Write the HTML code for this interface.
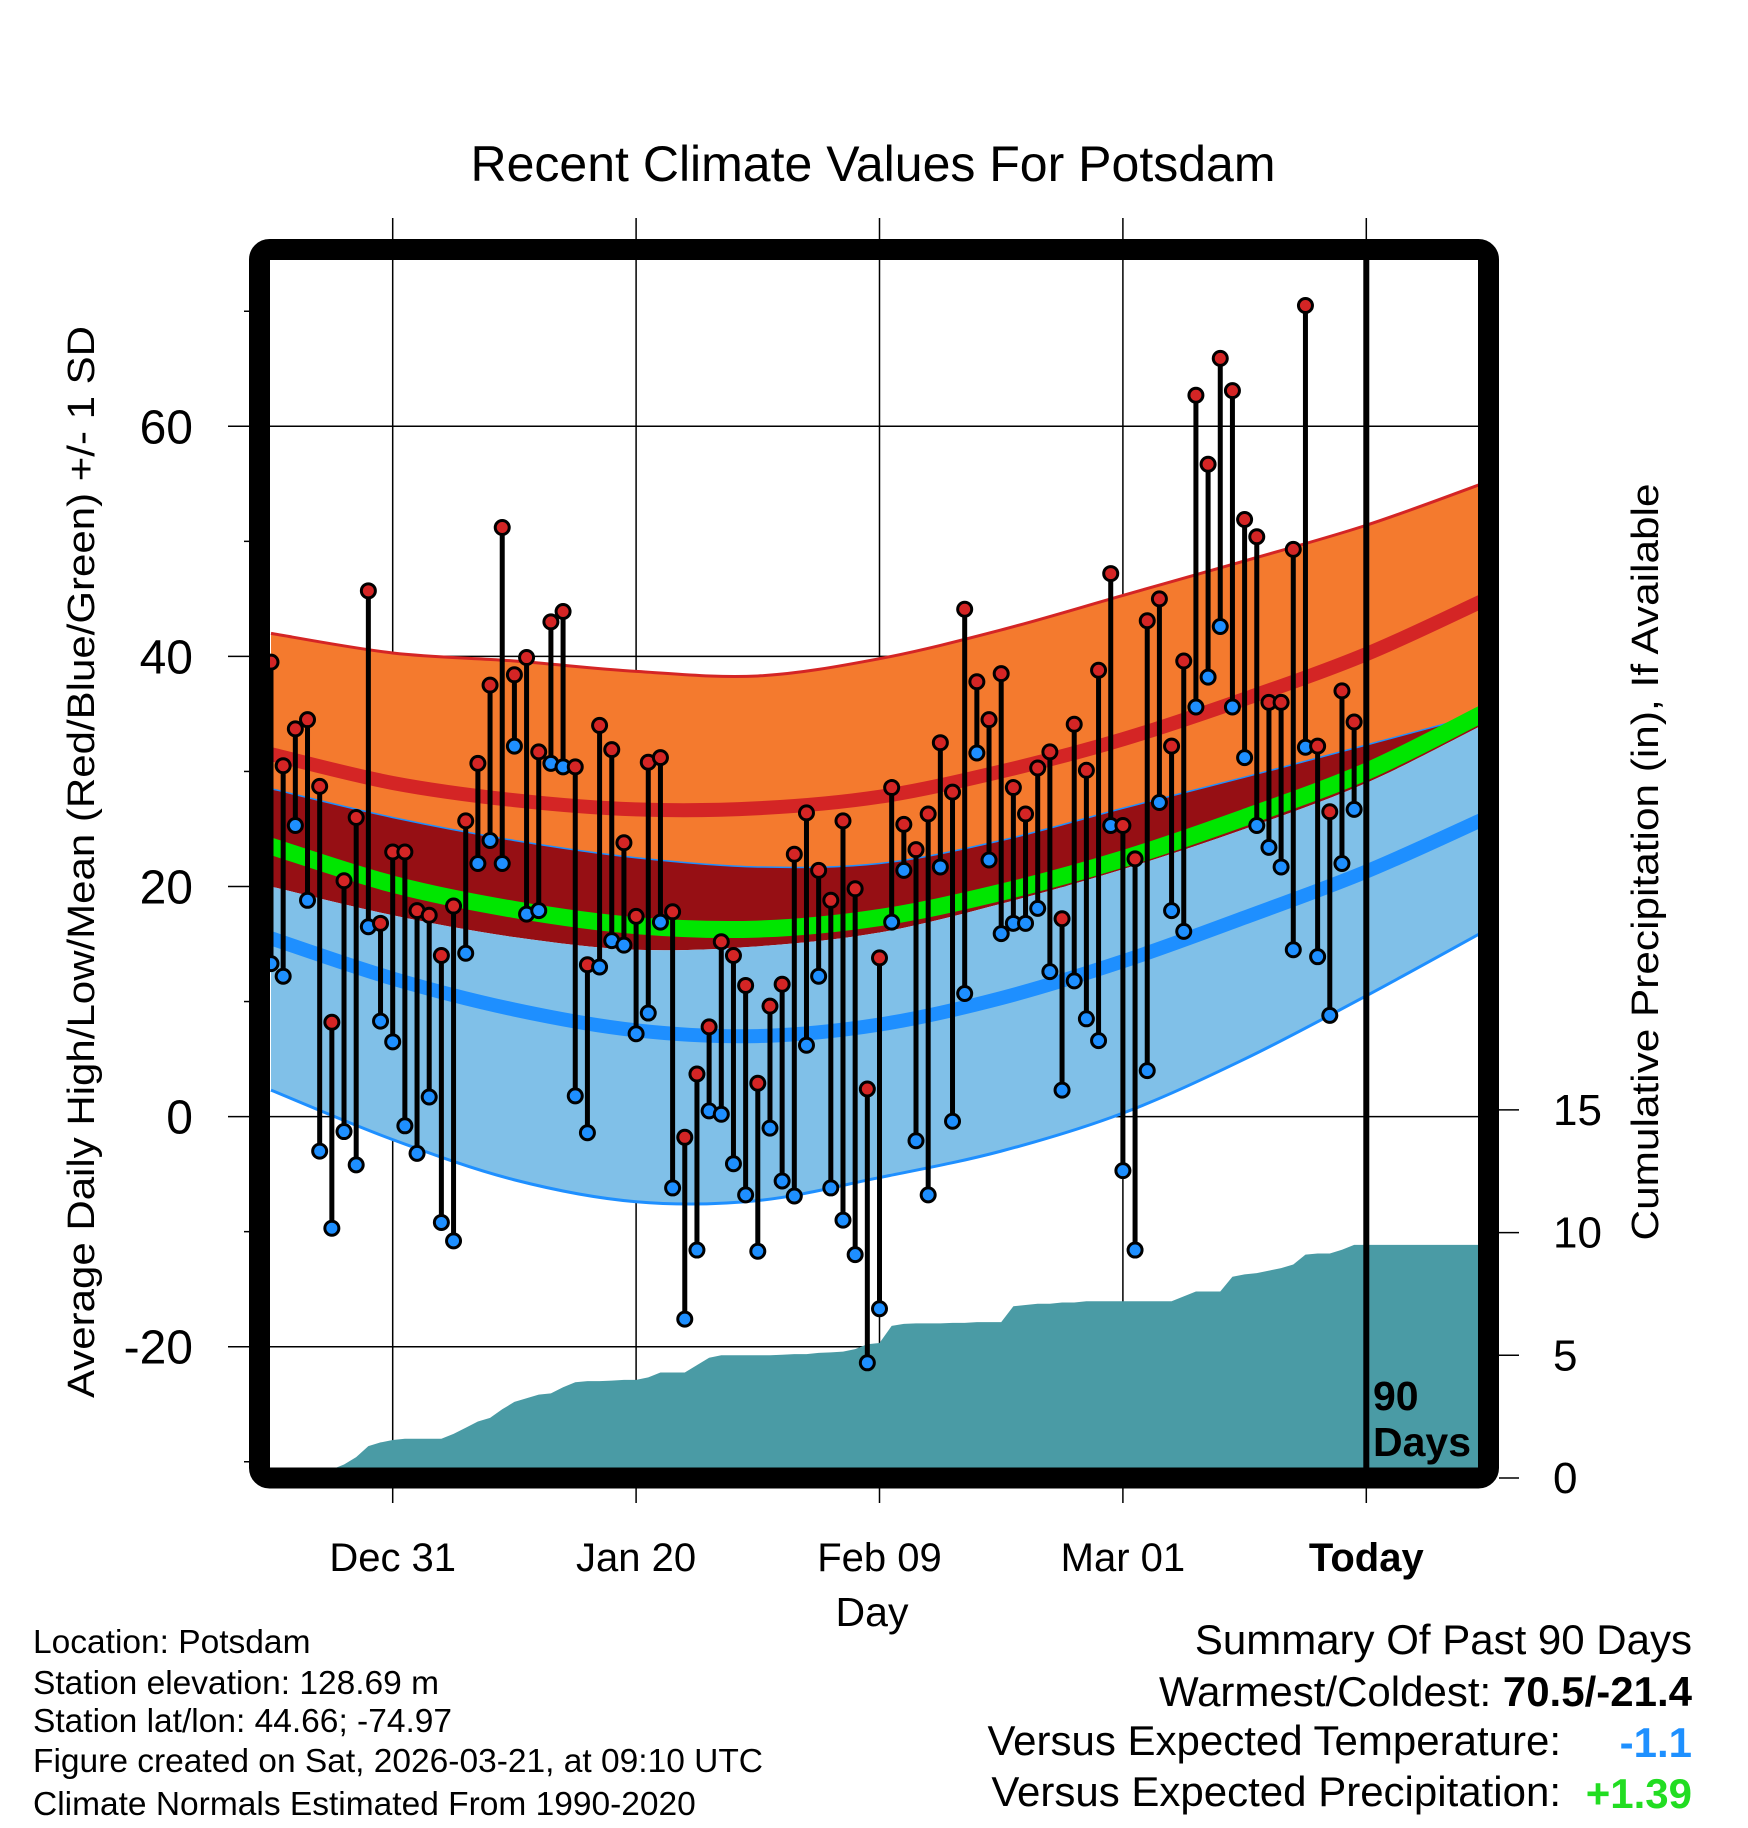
<!DOCTYPE html>
<html><head><meta charset="utf-8"><style>
body{margin:0;background:#fff;}
svg{display:block;font-family:"Liberation Sans",sans-serif;}
</style></head><body>
<svg id="chart" width="1748" height="1828" viewBox="0 0 1748 1828" xmlns="http://www.w3.org/2000/svg">
<defs><clipPath id="plotclip"><rect x="270" y="260" width="1208" height="1208"/></clipPath></defs>
<text x="873" y="181" font-size="50" text-anchor="middle">Recent Climate Values For Potsdam</text>
<g id="grid"></g>
<g id="bands" clip-path="url(#plotclip)"></g>
<g id="precip" clip-path="url(#plotclip)"></g>
<g id="marks"></g>
<g id="axes"></g>
<rect x="259.5" y="249.5" width="1229" height="1228.5" rx="10" fill="none" stroke="#000" stroke-width="21"/>
<text x="1373" y="1410" font-size="41" font-weight="bold">90</text>
<text x="1373" y="1456" font-size="41" font-weight="bold">Days</text>
<text x="872" y="1626" font-size="41" text-anchor="middle">Day</text>
<text transform="translate(94,862) rotate(-90)" font-size="38" text-anchor="middle" textLength="1072" lengthAdjust="spacingAndGlyphs">Average Daily High/Low/Mean (Red/Blue/Green) +/- 1 SD</text>
<text transform="translate(1658,862) rotate(-90)" font-size="38" text-anchor="middle" textLength="757" lengthAdjust="spacingAndGlyphs">Cumulative Precipitation (in), If Available</text>
<g font-size="33.5">
<text x="33" y="1653">Location: Potsdam</text>
<text x="33" y="1694">Station elevation: 128.69 m</text>
<text x="33" y="1732">Station lat/lon: 44.66; -74.97</text>
<text x="33" y="1772">Figure created on Sat, 2026-03-21, at 09:10 UTC</text>
<text x="33" y="1815">Climate Normals Estimated From 1990-2020</text>
</g>
<g font-size="42" text-anchor="end">
<text x="1692" y="1654">Summary Of Past 90 Days</text>
<text x="1692" y="1706">Warmest/Coldest: <tspan font-weight="bold">70.5/-21.4</tspan></text>
<text x="1561" y="1755">Versus Expected Temperature:</text>
<text x="1692" y="1757" font-weight="bold" fill="#1e90ff">-1.1</text>
<text x="1561" y="1806">Versus Expected Precipitation:</text>
<text x="1692" y="1808" font-weight="bold" fill="#22dd22">+1.39</text>
</g>
</svg>
<script>
const highs=[39.5,30.5,33.7,34.5,28.7,8.2,20.5,26.0,45.7,16.8,23.0,23.0,17.9,17.5,14.0,18.3,25.7,30.7,37.5,51.2,38.4,39.9,31.7,43.0,43.9,30.4,13.2,34.0,31.9,23.8,17.4,30.8,31.2,17.8,-1.8,3.7,7.8,15.2,14.0,11.4,2.9,9.6,11.5,22.8,26.4,21.4,18.8,25.7,19.8,2.4,13.8,28.6,25.4,23.2,26.3,32.5,28.2,44.1,37.8,34.5,38.5,28.6,26.3,30.3,31.7,17.2,34.1,30.1,38.8,47.2,25.3,22.4,43.1,45.0,32.2,39.6,62.7,56.7,65.9,63.1,51.9,50.4,36.0,36.0,49.3,70.5,32.2,26.5,37.0,34.3];
const lows=[13.3,12.2,25.3,18.8,-3.0,-9.7,-1.3,-4.2,16.5,8.3,6.5,-0.8,-3.2,1.7,-9.2,-10.8,14.2,22.0,24.0,22.0,32.2,17.6,17.9,30.7,30.4,1.8,-1.4,13.0,15.3,14.9,7.2,9.0,16.9,-6.2,-17.6,-11.6,0.5,0.2,-4.1,-6.8,-11.7,-1.0,-5.6,-6.9,6.2,12.2,-6.2,-9.0,-12.0,-21.4,-16.7,16.9,21.4,-2.1,-6.8,21.7,-0.4,10.7,31.6,22.3,15.9,16.8,16.8,18.1,12.6,2.3,11.8,8.5,6.6,25.3,-4.7,-11.6,4.0,27.3,17.9,16.1,35.6,38.2,42.6,35.6,31.2,25.3,23.4,21.7,14.5,32.1,13.9,8.8,22.0,26.7];
const precip=[0,0,0.02,0.08,0.2,0.35,0.55,0.85,1.3,1.45,1.55,1.6,1.6,1.6,1.6,1.8,2.05,2.3,2.45,2.8,3.1,3.25,3.4,3.45,3.7,3.9,3.95,3.95,3.97,4.0,4.0,4.1,4.3,4.3,4.3,4.6,4.9,5.0,5.0,5.0,5.0,5.0,5.02,5.05,5.05,5.1,5.12,5.15,5.25,5.45,5.5,6.2,6.28,6.3,6.3,6.3,6.32,6.32,6.35,6.35,6.35,7.0,7.05,7.1,7.1,7.15,7.15,7.2,7.2,7.2,7.2,7.2,7.2,7.2,7.2,7.4,7.6,7.6,7.6,8.2,8.3,8.35,8.45,8.55,8.7,9.1,9.15,9.15,9.3,9.5];
const normDays=[0,10,20,30,40,50,60,70,80,90,99.5];
const hiUp=[42,40.3,39.6,38.7,38.3,39.8,42.3,45.3,48.3,51.4,55.0];
const hiNorm=[31.5,29,27.5,26.7,26.8,27.8,30,32.8,36.3,40.2,44.8];
const hiDn=[28.5,26,24,22.5,21.7,22,24,26.8,29.5,32.3,35.0];
const meanNorm=[23.5,20.2,18,16.6,16.3,17.3,19.5,22.4,26,30,35];
const loUp=[20,17.5,15.6,14.5,14.8,16,18.5,21.5,25,29,34];
const loNorm=[15.5,12,9.3,7.5,7,8,10.3,13.5,17.3,21.3,25.8];
const loDn=[2.3,-2,-5.5,-7.4,-7.3,-5.3,-3,0.3,5,10.5,16];
const xTickDays=[10,30,50,70,90];
const xTickLabels=["Dec 31","Jan 20","Feb 09","Mar 01","Today"];
const yTicks=[60,40,20,0,-20];
const yMinor=[70,50,30,10,-10,-30];
const pTicks=[0,5,10,15];

const NS="http://www.w3.org/2000/svg";
const X=d=>271+d*12.17;
const Y=v=>1116.6-v*11.505;
const P=p=>1478-p*24.54;
function mk(tag,attrs,parent){const e=document.createElementNS(NS,tag);for(const k in attrs)e.setAttribute(k,attrs[k]);parent.appendChild(e);return e;}
function pts(arr){return normDays.map((d,i)=>[X(d),Y(arr[i])]);}
function curve(p){let s="M"+p[0][0]+","+p[0][1];for(let i=0;i<p.length-1;i++){const p0=p[Math.max(0,i-1)],p1=p[i],p2=p[i+1],p3=p[Math.min(p.length-1,i+2)];s+=" C"+(p1[0]+(p2[0]-p0[0])/6)+","+(p1[1]+(p2[1]-p0[1])/6)+" "+(p2[0]-(p3[0]-p1[0])/6)+","+(p2[1]-(p3[1]-p1[1])/6)+" "+p2[0]+","+p2[1];}return s;}
function area(a,b){const pa=pts(a),pb=pts(b).reverse();return curve(pa)+" L"+curve(pb).slice(1)+" Z";}
const grid=document.getElementById('grid'),bands=document.getElementById('bands'),precipG=document.getElementById('precip'),marks=document.getElementById('marks'),axes=document.getElementById('axes');

let e;
e=mk('path',{d:area(hiUp,hiDn),fill:'#f47a2e'},bands);


e=mk('path',{d:area(hiDn,loUp),fill:'#960f14'},bands);


e=mk('path',{d:area(loUp,loDn),fill:'#80c0e8'},bands);


e=mk('path',{d:curve(pts(hiUp)),fill:'none',stroke:'#d42525',"stroke-width":3},bands);


e=mk('path',{d:curve(pts(hiDn)),fill:'none',stroke:'#1e8fff',"stroke-width":1.5},bands);


e=mk('path',{d:curve(pts(loDn)),fill:'none',stroke:'#1e8fff',"stroke-width":3},bands);


e=mk('path',{d:curve(pts(hiNorm)),fill:'none',stroke:'#d42525',"stroke-width":14},bands);


e=mk('path',{d:curve(pts(meanNorm)),fill:'none',stroke:'#00e600',"stroke-width":17},bands);


e=mk('path',{d:curve(pts(loNorm)),fill:'none',stroke:'#1e8fff',"stroke-width":14},bands);



let pd="M"+X(0)+","+P(0);
precip.forEach((v,i)=>{pd+=" L"+X(i)+","+P(v);});
pd+=" L"+X(100)+","+P(precip[precip.length-1])+" L"+X(100)+","+P(0)+" Z";
e=mk('path',{d:pd,fill:'#4a9ba5'},precipG);



yTicks.forEach(v=>{
  e=mk('line',{x1:228,x2:1478,y1:Y(v),y2:Y(v),stroke:'#000',"stroke-width":1.5},grid);
  
  
  e=mk('text',{x:193,y:Y(v)+17,"font-size":48,"text-anchor":"end"},axes);
  e.textContent=v;
  
  
});
yMinor.forEach(v=>{
  e=mk('line',{x1:244,x2:250,y1:Y(v),y2:Y(v),stroke:'#000',"stroke-width":1.5},grid);
  
  
});
xTickDays.forEach((d,i)=>{
  const today=xTickLabels[i]==="Today";
  e=mk('line',{x1:X(d),x2:X(d),y1:218,y2:1503,stroke:'#000',"stroke-width":1.5},grid);
  
  
  e=mk('text',{x:X(d),y:1571,"font-size":40,"text-anchor":"middle","font-weight":today?"bold":"normal"},axes);
  e.textContent=xTickLabels[i];
  
  
});
pTicks.forEach(p=>{
  e=mk('line',{x1:1499,x2:1519,y1:P(p),y2:P(p),stroke:'#000',"stroke-width":1.5},axes);
  
  
  e=mk('text',{x:1553,y:P(p)+15,"font-size":44},axes);
  e.textContent=p;
  
  
});

e=mk('line',{x1:X(90),x2:X(90),y1:260,y2:1468,stroke:'#000',"stroke-width":6},marks);



highs.forEach((h,i)=>{
  const x=X(i);
  e=mk('line',{x1:x,x2:x,y1:Y(h),y2:Y(lows[i]),stroke:'#000',"stroke-width":5},marks);
  
  
  e=mk('circle',{cx:x,cy:Y(h),r:7,fill:'#d42525',stroke:'#000',"stroke-width":3},marks);
  
  
  e=mk('circle',{cx:x,cy:Y(lows[i]),r:7,fill:'#1e8fff',stroke:'#000',"stroke-width":3},marks);
  
  
});
</script>
</body></html>
